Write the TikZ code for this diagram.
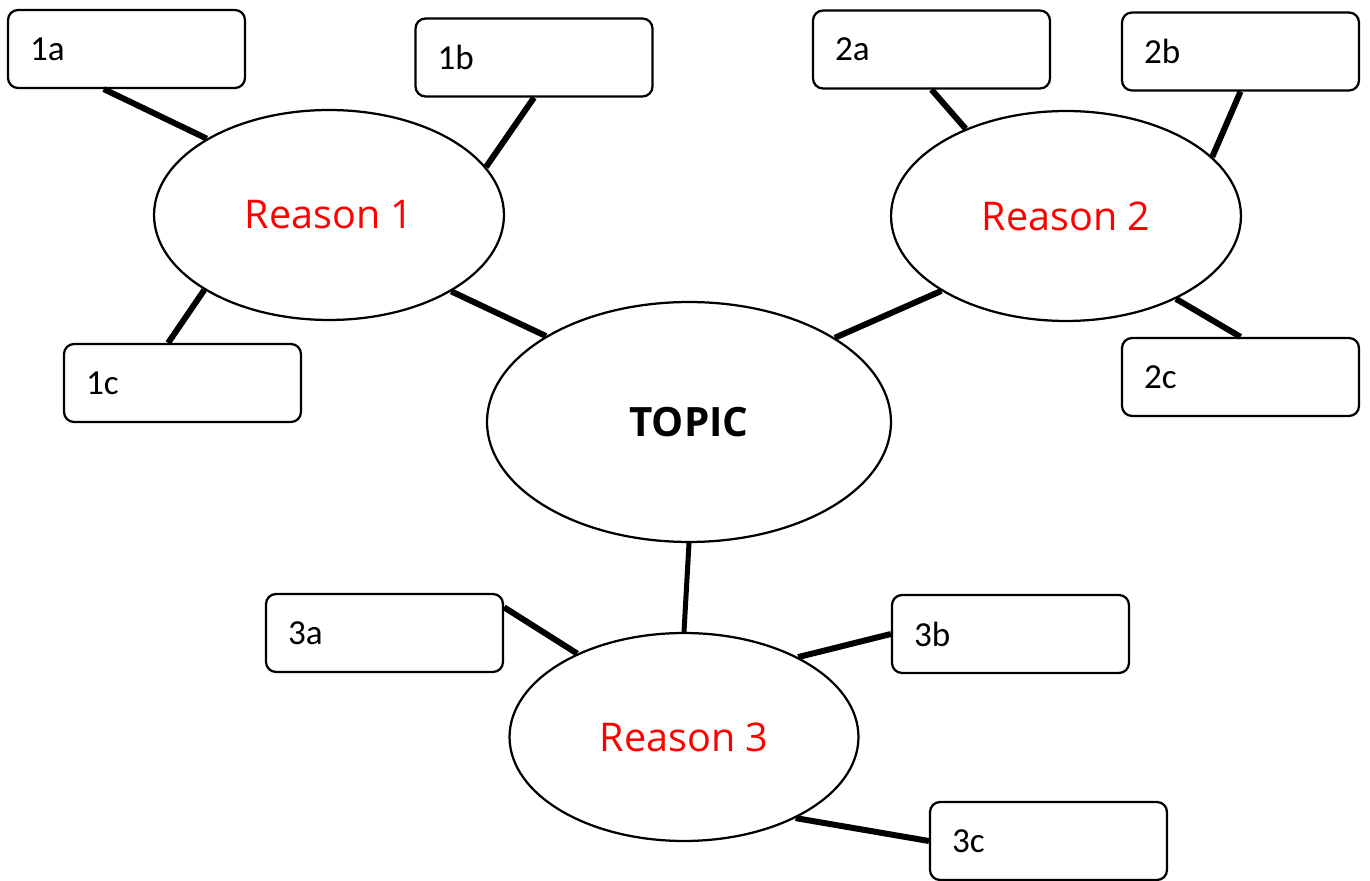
\documentclass[tikz,border=0pt]{standalone}
\usepackage{fontspec}
\setmainfont{Carlito}
\newfontfamily\reasonfont{Open Sans}
\usetikzlibrary{shapes.geometric,calc}
\begin{document}
\begin{tikzpicture}[x=0.02cm,y=-0.02cm,
  leaf/.style={draw, line width=0.045cm, rounded corners=0.2cm,
    minimum width=4.74cm, minimum height=1.56cm, text width=3.86cm,
    inner xsep=0.44cm, align=left, font=\fontsize{20}{24}\selectfont},
  hub/.style={draw, ellipse, line width=0.045cm, inner sep=0pt},
  reason/.style={hub, minimum width=7cm, minimum height=4.2cm, text=red,
    font=\reasonfont\fontsize{22.5}{26}\selectfont},
  spoke/.style={line width=0.12cm}]
\useasboundingbox (0,0) rectangle (1370,881);

% central topic and the three reasons
\node[hub, minimum width=8.08cm, minimum height=4.8cm,
  font=\reasonfont\bfseries\fontsize{23}{27}\selectfont] (topic) at (689,422) {TOPIC};
\node[reason] (r1) at (329,215) {Reason 1};
\node[reason] (r2) at (1066,216) {Reason 2};
\node[reason, minimum width=6.98cm, minimum height=4.16cm] (r3) at (684,737) {Reason 3};

% supporting boxes
\node[leaf] (b1a) at (126.5,49)   {1a};
\node[leaf] (b1b) at (534,57.5)   {1b};
\node[leaf] (b1c) at (182.5,383)  {1c};
\node[leaf] (b2a) at (931.5,49.5) {2a};
\node[leaf] (b2b) at (1240.5,51.5){2b};
\node[leaf] (b2c) at (1240.5,377) {2c};
\node[leaf] (b3a) at (384.5,633)  {3a};
\node[leaf] (b3b) at (1010.5,634) {3b};
\node[leaf] (b3c) at (1048.5,841) {3c};

% reasons to topic
\draw[spoke] (r1.328.8) -- (topic.149.6);
\draw[spoke] (r2.211.7) -- (topic.30);
\draw[spoke, line width=0.1cm] (topic.south) -- (r3.north);

% reason 1 spokes
\draw[spoke] (r1.148.1) -- ($(b1a.south west)!0.405!(b1a.south east)$);
\draw[spoke] (r1.17.5) -- (b1b.south);
\draw[spoke] (r1.211.2) -- ($(b1c.north west)!0.44!(b1c.north east)$);

% reason 2 spokes
\draw[spoke] (r2.139.2) -- (b2a.south);
\draw[spoke] (r2.22) -- (b2b.south);
\draw[spoke] (r2.323.4) -- (b2c.north);

% reason 3 spokes
\draw[spoke] (r3.142.7) -- ($(b3a.north east)!0.18!(b3a.south east)$);
\draw[spoke] (r3.35.8) -- (b3b.west);
\draw[spoke] (r3.324.2) -- (b3c.west);
\end{tikzpicture}
\end{document}
